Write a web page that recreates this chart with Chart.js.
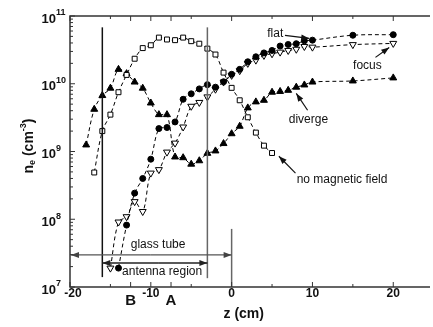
<!DOCTYPE html>
<html>
<head>
<meta charset="utf-8">
<script src="https://cdn.jsdelivr.net/npm/chart.js@4"></script>
<style>
  body { margin: 0; background: #fff; }
  canvas { display: block; }
</style>
</head>
<body>
<canvas id="c" width="433" height="327" style="width:433px;height:327px"></canvas>
<script>
// data (z in cm, n_e in cm^-3)
const zNoField = [-17,-16,-15,-14,-13,-12,-11,-10,-9,-8,-7,-6,-5,-4,-3,-2,-1,0,1,2,3,4,5]
const nNoField = [4.9e8,2.0e9,3.5e9,7.5e9,1.35e10,2.34e10,3.36e10,3.7e10,4.8e10,4.5e10,4.4e10,4.8e10,4.25e10,3.9e10,3.3e10,2.7e10,1.46e10,8.7e9,5.7e9,3.2e9,1.9e9,1.22e9,9.5e8]

const zDiverge = [-18,-17,-16,-15,-14,-13,-12,-11,-10,-9,-8,-7,-6,-5,-4,-3,-2,-1,0,1,2,3,4,5,6,7,8,9,10,15,20]
const nDiverge = [1.25e9,4.2e9,6.7e9,8.6e9,1.63e10,1.41e10,1.06e10,8.6e9,5.2e9,3.5e9,3.5e9,8.3e8,8.1e8,6.5e8,7.3e8,9.4e8,1.02e9,1.31e9,1.83e9,2.36e9,4.4e9,5.4e9,5.7e9,7.5e9,7.7e9,8.0e9,8.9e9,9.6e9,1.06e10,1.1e10,1.22e10]

const zFlat = [-14,-13,-12,-11,-10,-9,-8,-7,-6,-5,-4,-3,-2,-1,0,1,2,3,4,5,6,7,8,9,10,15,20]
const nFlat = [1.9e7,8.2e7,2.43e8,4.0e8,7.7e8,2.18e9,2.26e9,2.73e9,5.9e9,7.1e9,8.4e9,9.7e9,8.9e9,1.07e10,1.38e10,1.63e10,2.11e10,2.5e10,2.85e10,3.1e10,3.6e10,3.8e10,3.9e10,4.3e10,4.4e10,5.2e10,5.3e10]

const zFocus = [-15,-14,-13,-12,-11,-10,-9,-8,-7,-6,-5,-4,-3,-2,-1,0,1,2,3,4,5,6,7,8,9,10,15,20]
const nFocus = [1.9e7,9.1e7,1.09e8,1.82e8,1.3e8,4.8e8,5.4e8,9.8e8,1.33e9,2.3e9,4.65e9,5.3e9,6.4e9,8.3e9,1.06e10,1.33e10,1.56e10,2.0e10,2.23e10,2.62e10,2.77e10,2.93e10,3.1e10,3.23e10,3.55e10,3.47e10,3.78e10,3.94e10]

// axis ticks
const xMajor = [-20,-10,0,10,20]
const xMinor = [-15,-5,5,15]
const xLetters = [[-12.5,'B'],[-7.5,'A']]
const yDecades = [7,8,9,10,11]

const pts = (zs, ns) => zs.map((z,i) => ({x:z, y:ns[i]}))

function series(zs, ns, style, r, fill, rot){
  return {
    data: pts(zs, ns),
    borderColor: '#000',
    borderWidth: 1,
    borderDash: [4,3],
    tension: 0.35,
    pointStyle: style,
    pointRadius: r,
    pointRotation: rot || 0,
    pointBorderColor: '#000',
    pointBorderWidth: 1,
    pointBackgroundColor: fill
  }
}

function arrow(ctx, x0, y0, x1, y1){
  ctx.beginPath(); ctx.moveTo(x0,y0); ctx.lineTo(x1,y1); ctx.stroke()
  const a = Math.atan2(y1-y0, x1-x0), L = 8, W = 3
  ctx.beginPath()
  ctx.moveTo(x1,y1)
  ctx.lineTo(x1 - L*Math.cos(a) + W*Math.sin(a), y1 - L*Math.sin(a) - W*Math.cos(a))
  ctx.lineTo(x1 - L*Math.cos(a) - W*Math.sin(a), y1 - L*Math.sin(a) + W*Math.cos(a))
  ctx.closePath(); ctx.fill()
}

const frame = {
  id: 'frame',
  afterDraw(chart){
    const {ctx, chartArea: a, scales: {x, y}} = chart
    const X = v => x.getPixelForValue(v)
    const Y = v => y.getPixelForValue(v)
    ctx.save()

    // regions
    ctx.lineWidth = 1.5
    ctx.strokeStyle = '#111'
    ctx.beginPath(); ctx.moveTo(X(-16), Y(6.8e10)); ctx.lineTo(X(-16), Y(1.4e7)); ctx.stroke()
    ctx.strokeStyle = '#666'
    ctx.beginPath(); ctx.moveTo(X(-3), Y(6.8e10)); ctx.lineTo(X(-3), Y(1.35e7)); ctx.stroke()
    ctx.beginPath(); ctx.moveTo(X(0), Y(7.2e7)); ctx.lineTo(X(0), Y(1e7)); ctx.stroke()

    ctx.fillStyle = '#444'; ctx.strokeStyle = '#555'; ctx.lineWidth = 1.3
    arrow(ctx, X(-10), Y(2.97e7), X(-20)+1, Y(2.97e7))
    arrow(ctx, X(-10), Y(2.97e7), X(0), Y(2.97e7))
    ctx.fillStyle = '#222'; ctx.strokeStyle = '#222'
    arrow(ctx, X(-9), Y(2.26e7), X(-16), Y(2.26e7))
    arrow(ctx, X(-9), Y(2.26e7), X(-3), Y(2.26e7))

    ctx.fillStyle = '#111'
    ctx.font = '12px "Liberation Sans", Arial, sans-serif'
    ctx.textAlign = 'center'; ctx.textBaseline = 'middle'
    ctx.fillText('glass tube', X(-9.1), Y(4.2e7))
    ctx.fillText('antenna region', X(-8.6), Y(1.66e7))

    // curve labels
    ctx.fillText('flat', X(5.4), Y(5.5e10))
    ctx.fillText('focus', X(16.8), Y(1.87e10))
    ctx.fillText('diverge', X(9.5), Y(2.9e9))
    ctx.textAlign = 'left'
    ctx.fillText('no magnetic field', X(8.05), Y(3.9e8))
    ctx.strokeStyle = '#111'; ctx.lineWidth = 1.2
    arrow(ctx, X(6.6), Y(5.16e10), X(9.6), Y(4.67e10))
    arrow(ctx, X(17.8), Y(2.45e10), X(19.5), Y(3.44e10))
    arrow(ctx, X(9.4), Y(4.06e9), X(8.0), Y(7.2e9))
    arrow(ctx, X(7.9), Y(4.8e8), X(5.85), Y(8.5e8))

    // frame
    ctx.strokeStyle = '#333'; ctx.lineWidth = 1.5
    ctx.beginPath()
    ctx.moveTo(a.right + 2, a.top); ctx.lineTo(a.left, a.top)
    ctx.lineTo(a.left, a.bottom); ctx.lineTo(a.right + 2, a.bottom)
    ctx.stroke()

    // x ticks (inward, top and bottom)
    ctx.lineWidth = 1
    const xt = (v, len) => {
      ctx.beginPath()
      ctx.moveTo(X(v), a.bottom); ctx.lineTo(X(v), a.bottom - len)
      ctx.moveTo(X(v), a.top); ctx.lineTo(X(v), a.top + len)
      ctx.stroke()
    }
    xMajor.forEach(v => xt(v, 5))
    xMinor.forEach(v => xt(v, 3))
    xLetters.forEach(([v]) => xt(v, 5))

    // y ticks (log)
    yDecades.forEach(d => {
      ctx.beginPath(); ctx.moveTo(a.left, Y(10**d)); ctx.lineTo(a.left + 5, Y(10**d)); ctx.stroke()
      if (d < 11) for (let k = 2; k < 10; k++){
        ctx.beginPath(); ctx.moveTo(a.left, Y(k*10**d)); ctx.lineTo(a.left + 3, Y(k*10**d)); ctx.stroke()
      }
    })

    // tick labels
    ctx.fillStyle = '#111'
    ctx.textAlign = 'center'; ctx.textBaseline = 'middle'
    ctx.font = 'bold 12px "Liberation Sans", Arial, sans-serif'
    xMajor.forEach(v => ctx.fillText(String(v), X(v) + (v === -20 ? 3 : 0), a.bottom + 7))
    ctx.font = 'bold 15px "Liberation Sans", Arial, sans-serif'
    xLetters.forEach(([v, t]) => ctx.fillText(t, X(v), a.bottom + 14))

    yDecades.forEach(d => {
      const yy = Y(10**d)
      ctx.textAlign = 'right'
      ctx.font = 'bold 13px "Liberation Sans", Arial, sans-serif'
      ctx.fillText('10', 56, yy + 3)
      ctx.textAlign = 'left'
      ctx.font = 'bold 9px "Liberation Sans", Arial, sans-serif'
      ctx.fillText(String(d), 56, yy - 3)
    })

    // axis titles
    ctx.textAlign = 'center'
    ctx.font = 'bold 14px "Liberation Sans", Arial, sans-serif'
    ctx.fillText('z (cm)', X(1.5), 314)

    ctx.translate(29, 146); ctx.rotate(-Math.PI/2)
    const big = 'bold 14px "Liberation Sans", Arial, sans-serif'
    const sml = 'bold 9px "Liberation Sans", Arial, sans-serif'
    const parts = [['n', big, 0], ['e', sml, 4], [' (cm', big, 0], ['-3', sml, -5], [')', big, 0]]
    let w = 0
    parts.forEach(([t, f]) => { ctx.font = f; w += ctx.measureText(t).width })
    let cx = -w/2
    ctx.textAlign = 'left'
    parts.forEach(([t, f, dy]) => { ctx.font = f; ctx.fillText(t, cx, dy); cx += ctx.measureText(t).width })

    ctx.restore()
  }
}

new Chart(document.getElementById('c'), {
  type: 'line',
  data: {
    datasets: [
      series(zNoField, nNoField, 'rect', 3.5, '#fff'),
      series(zDiverge, nDiverge, 'triangle', 4, '#000'),
      series(zFlat, nFlat, 'circle', 3, '#000'),
      series(zFocus, nFocus, 'triangle', 4, '#fff', 180)
    ]
  },
  options: {
    responsive: false,
    animation: false,
    layout: { padding: { left: 70, top: 16, right: 0, bottom: 40 } },
    plugins: { legend: { display: false }, tooltip: { enabled: false } },
    scales: {
      x: { type: 'linear', min: -20, max: 24.3, display: false },
      y: { type: 'logarithmic', min: 1e7, max: 1e11, display: false }
    }
  },
  plugins: [frame]
})
</script>
</body>
</html>
